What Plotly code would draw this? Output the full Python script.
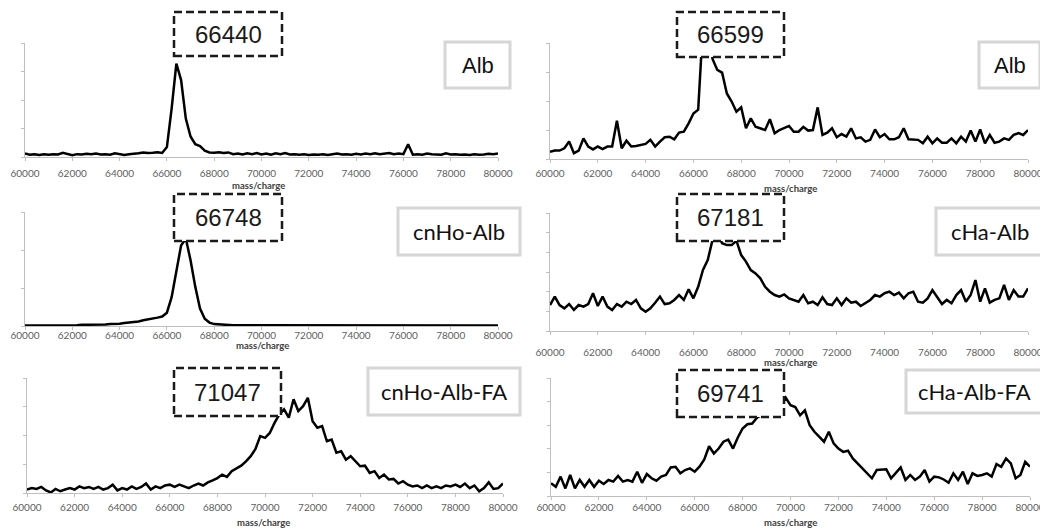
import plotly.graph_objects as go

# ---------------- data ----------------
mass_charge = list(range(60000, 80001, 200))
x_tick_values = [60000, 62000, 64000, 66000, 68000, 70000, 72000, 74000, 76000, 78000, 80000]
x_tick_labels = ["60000", "62000", "64000", "66000", "68000", "70000", "72000", "74000", "76000", "78000", "80000"]

peak_labels = ["66440", "66599", "66748", "67181", "71047", "69741"]
sample_labels = ["Alb", "Alb", "cnHo-Alb", "cHa-Alb", "cnHo-Alb-FA", "cHa-Alb-FA"]

alb_left = [
    0.12, 0.08, 0.10, 0.07, 0.10, 0.08, 0.10, 0.09, 0.15, 0.10,
    0.06, 0.10, 0.09, 0.11, 0.10, 0.12, 0.09, 0.10, 0.08, 0.13,
    0.09, 0.07, 0.10, 0.11, 0.13, 0.16, 0.14, 0.15, 0.17, 0.14,
    0.35, 1.70, 3.28, 2.70, 1.35, 0.72, 0.45, 0.38, 0.22, 0.16,
    0.15, 0.17, 0.14, 0.16, 0.10, 0.12, 0.09, 0.13, 0.10, 0.14,
    0.09, 0.12, 0.08, 0.13, 0.10, 0.14, 0.09, 0.10, 0.08, 0.10,
    0.07, 0.09, 0.08, 0.10, 0.07, 0.10, 0.12, 0.09, 0.10, 0.08,
    0.11, 0.09, 0.12, 0.10, 0.13, 0.10, 0.12, 0.14, 0.10, 0.12,
    0.10, 0.45, 0.08, 0.10, 0.08, 0.12, 0.10, 0.09, 0.08, 0.13,
    0.09, 0.10, 0.08, 0.09, 0.07, 0.10, 0.08, 0.09, 0.11, 0.10,
    0.12,
]

alb_right = [
    0.25, 0.29, 0.29, 0.37, 0.60, 0.20, 0.29, 0.71, 0.43, 0.33,
    0.43, 0.34, 0.43, 0.43, 1.32, 0.37, 0.63, 0.43, 0.45, 0.48,
    0.52, 0.66, 0.43, 0.60, 0.75, 0.77, 0.68, 0.91, 0.94, 1.23,
    1.57, 1.70, 4.60, 4.80, 3.45, 3.07, 2.98, 2.26, 1.98, 1.63,
    1.78, 1.06, 1.40, 1.11, 1.06, 1.00, 1.37, 0.89, 1.00, 1.06,
    1.14, 0.94, 0.94, 1.11, 0.98, 1.00, 1.78, 0.83, 0.91, 1.06,
    0.75, 0.86, 0.77, 1.06, 0.71, 0.75, 0.60, 0.66, 1.02, 0.75,
    0.86, 0.68, 0.68, 0.75, 1.06, 0.68, 0.66, 0.66, 0.54, 0.77,
    0.54, 0.71, 0.56, 0.56, 0.71, 0.54, 0.77, 0.60, 0.98, 0.60,
    1.02, 0.54, 0.83, 0.56, 0.60, 0.71, 0.66, 0.83, 0.89, 0.83,
    1.00,
]

cnho_alb = [
    0.01, 0.01, 0.01, 0.01, 0.01, 0.01, 0.01, 0.02, 0.02, 0.02,
    0.02, 0.02, 0.03, 0.03, 0.03, 0.035, 0.04, 0.04, 0.05, 0.05,
    0.06, 0.08, 0.09, 0.11, 0.12, 0.15, 0.17, 0.19, 0.22, 0.25,
    0.35, 0.76, 1.42, 2.12, 2.30, 1.73, 1.03, 0.46, 0.19, 0.09,
    0.05, 0.04, 0.03, 0.03, 0.02, 0.02, 0.02, 0.02, 0.01, 0.01,
    0.01, 0.01, 0.01, 0.01, 0.01, 0.01, 0.01, 0.01, 0.01, 0.01,
    0.01, 0.01, 0.01, 0.01, 0.01, 0.01, 0.01, 0.01, 0.01, 0.01,
    0.01, 0.01, 0.01, 0.01, 0.01, 0.01, 0.01, 0.01, 0.01, 0.01,
    0.01, 0.01, 0.01, 0.01, 0.01, 0.01, 0.01, 0.01, 0.01, 0.01,
    0.01, 0.01, 0.01, 0.01, 0.01, 0.01, 0.01, 0.01, 0.01, 0.01,
    0.01,
]

cha_alb = [
    1.32, 1.75, 1.32, 1.15, 1.37, 1.07, 1.32, 1.24, 1.37, 1.92,
    1.27, 1.75, 1.24, 1.07, 1.37, 1.24, 1.49, 1.37, 1.58, 1.15,
    0.98, 1.15, 1.44, 1.75, 1.37, 1.41, 1.58, 1.83, 1.58, 2.12,
    1.66, 2.25, 3.10, 3.61, 4.63, 5.00, 4.46, 4.37, 4.37, 4.59,
    3.86, 3.53, 3.10, 2.93, 2.68, 2.25, 2.00, 1.83, 1.75, 1.86,
    1.66, 1.58, 1.49, 1.83, 1.41, 1.49, 1.32, 1.71, 1.37, 1.32,
    1.66, 1.32, 1.66, 1.44, 1.49, 1.27, 1.44, 1.58, 1.83, 1.75,
    1.92, 2.00, 1.83, 1.95, 1.66, 1.92, 2.00, 1.49, 1.44, 1.66,
    2.08, 1.75, 1.37, 1.58, 1.41, 1.83, 2.08, 1.49, 1.83, 2.59,
    1.49, 2.17, 1.44, 1.58, 1.66, 2.34, 1.58, 2.08, 1.75, 1.75,
    2.17,
]

cnho_alb_fa = [
    0.12, 0.17, 0.14, 0.21, 0.09, 0.02, 0.14, 0.06, 0.12, 0.17,
    0.12, 0.23, 0.17, 0.21, 0.14, 0.21, 0.12, 0.17, 0.29, 0.09,
    0.17, 0.12, 0.23, 0.14, 0.21, 0.33, 0.12, 0.23, 0.17, 0.26,
    0.29, 0.21, 0.29, 0.23, 0.17, 0.26, 0.33, 0.26, 0.37, 0.44,
    0.52, 0.64, 0.56, 0.76, 0.87, 0.95, 1.10, 1.28, 1.53, 1.98,
    1.92, 2.09, 2.44, 2.73, 2.91, 2.62, 3.26, 2.85, 3.02, 3.31,
    2.50, 2.27, 2.33, 1.80, 1.86, 1.40, 1.45, 1.16, 1.28, 1.10,
    0.93, 0.95, 0.70, 0.76, 0.52, 0.64, 0.47, 0.49, 0.33, 0.41,
    0.29, 0.23, 0.26, 0.17, 0.26, 0.17, 0.23, 0.17, 0.26, 0.23,
    0.29, 0.21, 0.33, 0.17, 0.26, 0.06, 0.17, 0.37, 0.14, 0.17,
    0.33,
]

cha_alb_fa = [
    0.54, 0.39, 0.82, 0.32, 0.89, 0.32, 0.68, 0.39, 0.68, 0.39,
    0.65, 0.51, 0.68, 0.61, 0.85, 0.61, 0.68, 0.61, 1.03, 0.56,
    0.93, 0.75, 0.65, 0.82, 0.89, 1.21, 1.24, 0.96, 1.10, 1.17,
    1.03, 1.24, 1.55, 2.11, 1.80, 2.01, 2.30, 2.39, 2.01, 2.48,
    2.86, 3.04, 3.07, 3.32, 3.45, 3.55, 3.60, 3.70, 3.80, 4.17,
    3.85, 3.77, 3.42, 3.63, 3.00, 2.72, 2.51, 2.30, 2.72, 2.23,
    2.01, 1.87, 1.92, 1.59, 1.38, 1.17, 0.96, 0.75, 1.10, 1.13,
    1.13, 0.75, 0.96, 1.21, 0.68, 0.89, 0.68, 0.82, 1.10, 0.61,
    0.82, 0.79, 0.70, 0.56, 0.96, 0.68, 1.03, 0.51, 0.96, 0.85,
    0.89, 0.96, 0.82, 1.35, 1.24, 1.59, 1.38, 0.75, 0.89, 1.45,
    1.24,
]

series = [alb_left, alb_right, cnho_alb, cha_alb, cnho_alb_fa, cha_alb_fa]
y_maxima = [4, 4, 3, 6, 4, 5]

# ---------------- layout (pixels in the 1048x531 window) ----------------
OFF = 8                      # page body margin of the browser
W, H = 1048 - OFF, 531 - OFF  # figure size so that it just fills the window
# plot area: x_left, x_right, y_top, y_bottom
areas = [
    (25, 498, 43, 157),
    (550, 1028, 43, 159),
    (25, 498, 212, 326),
    (550, 1028, 213, 331),
    (27, 503, 378, 493),
    (551, 1030, 378, 496),
]
label_standoff = [4, 2, -3, 9, 2, -1]
title_pos = [(258, 185), (790, 188), (262, 345), (790, 362), (263, 522), (790, 522)]
dash_boxes = [
    (174, 282, 12, 56), (677, 784, 12, 57),
    (174, 282, 194, 241), (677, 784, 194, 241),
    (174, 281, 368, 416), (677, 784, 370, 417),
]
label_boxes = [
    (445, 510, 42, 88), (979, 1040, 42, 88),
    (398, 520, 208, 255), (936, 1043, 208, 255),
    (368, 520, 368, 415), (906, 1043, 370, 413),
]
label_fonts = ["Liberation Sans", "Liberation Sans", "Lato", "Lato", "Lato", "Lato"]


def fx(p):
    return (p - OFF) / W


def fy(p):
    return 1 - (p - OFF) / H


fig = go.Figure()
layout = dict(
    width=W, height=H, autosize=False,
    margin=dict(l=0, r=0, t=0, b=0, pad=0),
    paper_bgcolor="white", plot_bgcolor="white",
    showlegend=False,
    shapes=[], annotations=[],
)

for i, (ys, ymax, area) in enumerate(zip(series, y_maxima, areas)):
    n = "" if i == 0 else str(i + 1)
    xl, xr, yt, yb = area
    fig.add_trace(go.Scatter(
        x=mass_charge, y=ys, mode="lines",
        line=dict(color="black", width=2.5),
        xaxis="x" + n, yaxis="y" + n, hoverinfo="skip",
    ))
    layout["xaxis" + n] = dict(
        domain=[fx(xl), fx(xr)], anchor="y" + n, automargin=False,
        range=[60000, 80000], tickvals=x_tick_values, ticktext=x_tick_labels,
        showgrid=False, zeroline=False, showline=True, linecolor="#bfbfbf", linewidth=1,
        ticks="outside", ticklen=3, tickcolor="#bfbfbf",
        tickfont=dict(family="Lato", size=10, color="#606060"),
        ticklabelstandoff=label_standoff[i],
    )
    layout["yaxis" + n] = dict(
        domain=[fy(yb), fy(yt)], anchor="x" + n, automargin=False,
        range=[0, ymax], dtick=1, tick0=0,
        showgrid=False, zeroline=False, showline=True, linecolor="#bfbfbf", linewidth=1,
        ticks="outside", ticklen=3, tickcolor="#bfbfbf", showticklabels=False,
    )
    tx, ty = title_pos[i]
    layout["annotations"].append(dict(
        x=fx(tx), y=fy(ty), xref="paper", yref="paper", showarrow=False,
        text="<b>mass/charge</b>", font=dict(family="Lato", size=9.5, color="#404040"),
        xanchor="center", yanchor="middle",
    ))
    # dashed peak box
    bx0, bx1, by0, by1 = dash_boxes[i]
    layout["shapes"].append(dict(
        type="rect", xref="paper", yref="paper",
        x0=fx(bx0), x1=fx(bx1), y0=fy(by1), y1=fy(by0),
        line=dict(color="#1a1a1a", width=2.5, dash="8px,4px"), fillcolor="white", layer="above",
    ))
    layout["annotations"].append(dict(
        x=fx((bx0 + bx1) / 2), y=fy((by0 + by1) / 2), xref="paper", yref="paper", showarrow=False,
        text=peak_labels[i], font=dict(family="Liberation Sans", size=24, color="#1a1a1a"),
        xanchor="center", yanchor="middle",
    ))
    # sample label box
    lx0, lx1, ly0, ly1 = label_boxes[i]
    layout["shapes"].append(dict(
        type="rect", xref="paper", yref="paper",
        x0=fx(lx0), x1=fx(lx1), y0=fy(ly1), y1=fy(ly0),
        line=dict(color="#d6d6d6", width=3), fillcolor="white", layer="above",
    ))
    layout["annotations"].append(dict(
        x=fx((lx0 + lx1) / 2), y=fy((ly0 + ly1) / 2), xref="paper", yref="paper", showarrow=False,
        text=sample_labels[i], font=dict(family=label_fonts[i], size=22, color="#111111"),
        xanchor="center", yanchor="middle",
    ))

fig.update_layout(**layout)
fig.write_html("out.html")
